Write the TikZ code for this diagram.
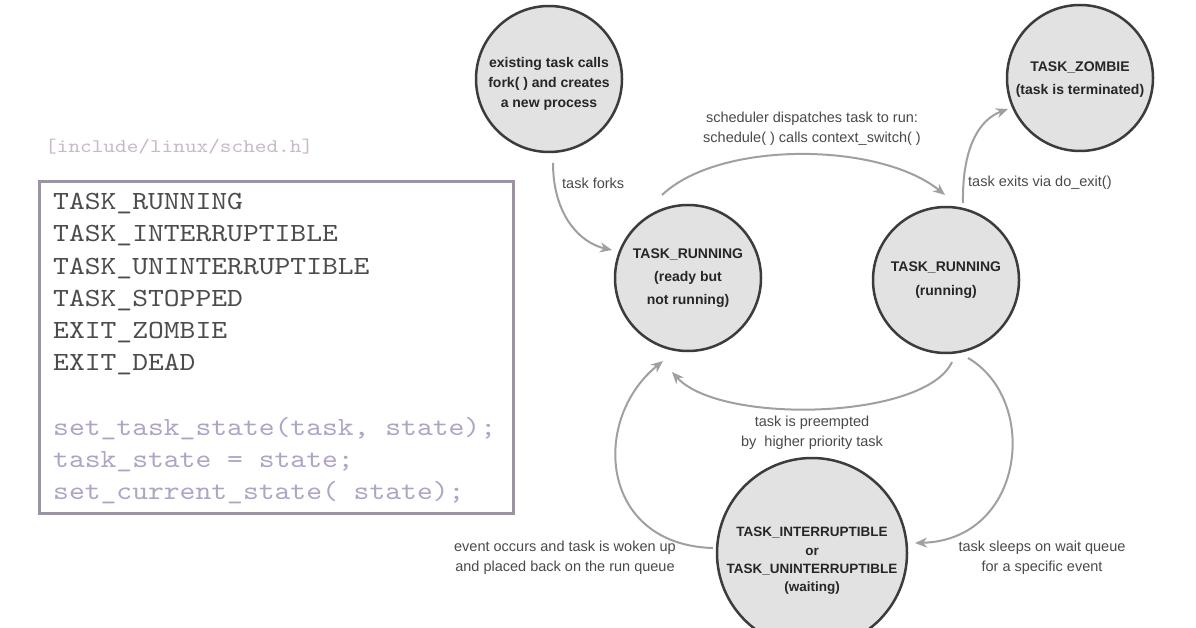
\documentclass[tikz,border=0pt]{standalone}
\usepackage{fontspec}
\setmainfont{Liberation Sans}
\newfontfamily\codefont{lmmono10-regular}[Extension=.otf, FakeStretch=1.15]
\usetikzlibrary{arrows.meta,calc}
\definecolor{circfill}{HTML}{E2E2E2}
\definecolor{circline}{HTML}{3C3C3C}
\definecolor{arrowc}{HTML}{A0A0A0}
\definecolor{labc}{HTML}{4A4A4A}
\definecolor{codedark}{HTML}{4C4C4C}
\definecolor{codelight}{HTML}{B0A4C6}
\definecolor{hdrc}{HTML}{C8B8C8}
\definecolor{boxc}{HTML}{9C94A4}
\begin{document}
\begin{tikzpicture}[x=1pt,y=-1pt,
  state/.style={circle, draw=circline, fill=circfill, line width=2.5pt, inner sep=0pt,
    minimum size=146pt, align=center, text=black!85,
    font=\fontsize{14}{23}\selectfont\bfseries},
  stxt/.style={inner sep=0pt, align=center, text=black!85, font=\fontsize{13.5}{18.3}\selectfont\bfseries},
  trans/.style={draw=arrowc, line width=2pt, -{Stealth[length=12pt,width=10pt]}},
  lab/.style={text=labc, font=\fontsize{14.5}{20}\selectfont, inner sep=0pt, align=center},
  code/.style={anchor=base west, inner sep=0pt, font=\codefont\fontsize{26.2}{32}\selectfont}]
\useasboundingbox (0,0) rectangle (1196,628);
\fill[white] (0,0) rectangle (1196,628);

% left: header and code box
\node[anchor=base west, inner sep=0pt, text=hdrc, font=\codefont\fontsize{19.3}{24}\selectfont] (hdr) at (45,153) {[include/linux/sched.h]};
\node[draw=boxc, line width=3pt, minimum width=474pt, minimum height=331pt, inner sep=0pt] (codebox) at (276,347.5) {};
\node[code, text=codedark] (c1) at (53,210) {TASK\_RUNNING};
\node[code, text=codedark] (c2) at (53,242) {TASK\_INTERRUPTIBLE};
\node[code, text=codedark] (c3) at (53,274) {TASK\_UNINTERRUPTIBLE};
\node[code, text=codedark] (c4) at (53,306) {TASK\_STOPPED};
\node[code, text=codedark] (c5) at (53,338) {EXIT\_ZOMBIE};
\node[code, text=codedark] (c6) at (53,370) {EXIT\_DEAD};
\node[code, text=codelight] (c7) at (53,435) {set\_task\_state(task, state);};
\node[code, text=codelight] (c8) at (53,467) {task\_state = state;};
\node[code, text=codelight] (c9) at (53,499) {set\_current\_state( state);};

% states
\node[state] (fork) at (549,79) {};
\node[stxt, font=\fontsize{14}{20}\selectfont\bfseries] (forktxt) at (549,84) {existing task calls\\fork( ) and creates\\a new process};
\node[state] (zombie) at (1080,78) {};
\node[stxt, font=\fontsize{14}{23}\selectfont\bfseries] (zombietxt) at (1080,80) {TASK\_ZOMBIE\\(task is terminated)};
\node[state] (ready) at (688,278) {TASK\_RUNNING\\(ready but\\not running)};
\node[state, font=\fontsize{14}{24}\selectfont\bfseries] (running) at (946,280) {TASK\_RUNNING\\(running)};
\node[state, minimum size=190pt] (waiting) at (812,553) {};
\node[stxt] (waitingtxt) at (812,561) {TASK\_INTERRUPTIBLE\\or\\TASK\_UNINTERRUPTIBLE\\(waiting)};

% transitions
\draw[trans] ($(fork)+(4,84)$) .. controls (553,215) and (580,243) .. ($(ready)+(-76,-28)$);
\draw[trans] ($(ready)+(-26,-83)$) .. controls (720,140) and (880,142) .. ($(running)+(-1,-85)$);
\draw[trans] ($(running)+(17,-77)$) .. controls (962,150) and (978,120) .. ($(zombie)+(-72,31)$);
\draw[trans] ($(running)+(6,82)$) .. controls (925,420) and (720,425) .. ($(ready)+(-16,94)$);
\draw[trans] ($(running)+(22,78)$) .. controls (1040,400) and (1025,540) .. ($(waiting)+(103,-10)$);
\draw[trans] ($(waiting)+(-99,-5)$) .. controls (600,545) and (590,420) .. ($(ready)+(-25,83)$);

% labels
\node[lab, anchor=west] (lforks) at (562,183) {task forks};
\node[lab] (lsched) at (812,129) {scheduler dispatches task to run:\\schedule( ) calls context\_switch( )};
\node[lab, anchor=west] (lexit) at (968,183) {task exits via do\_exit()};
\node[lab] (lpre) at (812,433) {task is preempted\\by\ \ higher priority task};
\node[lab] (lwoken) at (565,558) {event occurs and task is woken up\\and placed back on the run queue};
\node[lab] (lsleep) at (1042,558) {task sleeps on wait queue\\for a specific event};
\end{tikzpicture}
\end{document}
